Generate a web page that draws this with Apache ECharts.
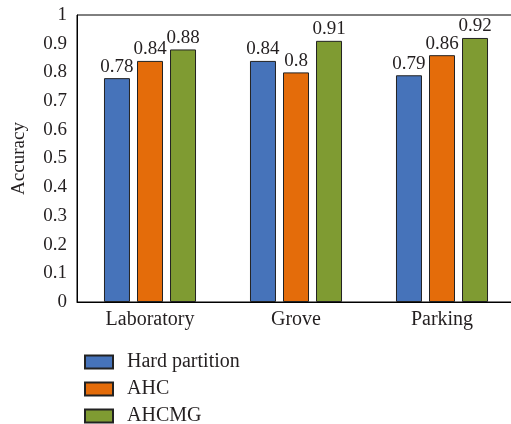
<!DOCTYPE html>
<html>
<head>
<meta charset="utf-8">
<script src="https://cdn.jsdelivr.net/npm/echarts@6/dist/echarts.min.js"></script>
<style>html,body{margin:0;padding:0;background:#fff}#c{width:511px;height:424px}</style>
</head>
<body>
<div id="c"></div>
<script>
const categories = ['Laboratory', 'Grove', 'Parking'];
const seriesNames = ['Hard partition', 'AHC', 'AHCMG'];
const hardPartition = [0.78, 0.84, 0.79];
const ahc = [0.84, 0.8, 0.86];
const ahcmg = [0.88, 0.91, 0.92];
const yTicks = [0, 0.1, 0.2, 0.3, 0.4, 0.5, 0.6, 0.7, 0.8, 0.9, 1];
const colors = ['#4673BA', '#E46C0A', '#7F9B32'];

const font = 'Liberation Serif';
const txt = '#231F20';
const values = [hardPartition, ahc, ahcmg];
const legendTops = [352, 379, 406];

const chart = echarts.init(document.getElementById('c'), null, {renderer: 'canvas'});
chart.setOption({
  animation: false,
  textStyle: {fontFamily: font, color: txt},
  grid: {left: 77, width: 438, top: 15, height: 287, show: true, borderColor: '#000', borderWidth: 1,
    backgroundColor: 'transparent', outerBoundsMode: 'none', containLabel: false},
  legend: seriesNames.map((n, i) => ({
    orient: 'vertical', left: 84, top: legendTops[i], padding: 0,
    icon: 'rect', itemWidth: 28, itemHeight: 13,
    textStyle: {fontFamily: font, fontSize: 20, color: txt, padding: [0, 0, 0, 9]},
    data: [n]
  })),
  xAxis: {
    type: 'category', data: categories,
    axisLine: {lineStyle: {color: '#000', width: 1}},
    axisTick: {show: false},
    axisLabel: {fontFamily: font, fontSize: 20, color: txt, margin: 8}
  },
  yAxis: {
    type: 'value', min: 0, max: 1, interval: 0.1,
    name: 'Accuracy', nameLocation: 'middle', nameGap: 48,
    nameTextStyle: {fontFamily: font, fontSize: 19, color: txt},
    axisLine: {show: true, lineStyle: {color: '#000', width: 1}},
    axisTick: {show: false},
    splitLine: {show: false},
    axisLabel: {fontFamily: font, fontSize: 19, color: txt, margin: 10,
      formatter: v => { const t = yTicks.find(x => Math.abs(x - v) < 1e-9); return t === undefined ? '' : String(t); }}
  },
  series: seriesNames.map((n, i) => ({
    name: n, type: 'bar', data: values[i],
    barWidth: 26, barGap: '27%',
    itemStyle: {color: colors[i], borderColor: '#222', borderWidth: 1},
    label: {show: true, position: 'top', distance: 2, fontFamily: font, fontSize: 19, color: txt,
      formatter: p => String(p.value)}
  }))
});
</script>
</body>
</html>
